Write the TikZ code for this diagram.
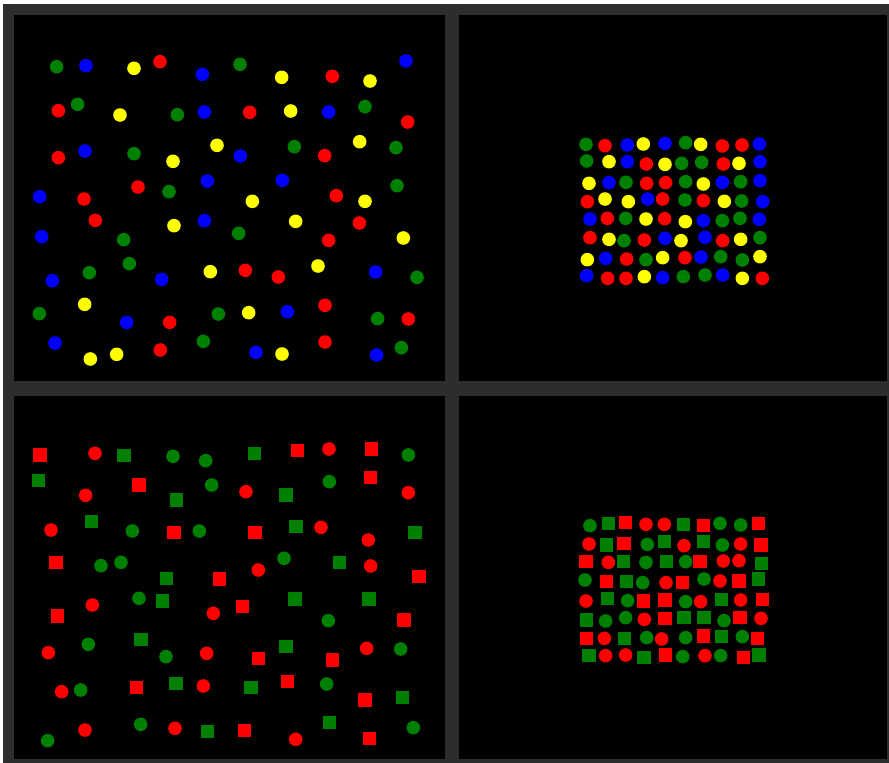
\documentclass[tikz,border=0pt]{standalone}
\definecolor{framegray}{RGB}{45,45,45}
\definecolor{dg}{RGB}{0,128,0}
\definecolor{dr}{RGB}{255,0,0}
\definecolor{db}{RGB}{0,0,255}
\definecolor{dy}{RGB}{255,255,0}
\newcommand\dotset[2]{\foreach \px/\py in {#2} \fill[#1] (\px,\py) circle[radius=6.8pt];}
\newcommand\sqset[2]{\foreach \px/\py in {#2} \fill[#1] (\px,\py) ++(-6.8pt,-6.8pt) rectangle ++(13.6pt,13.6pt);}
\tikzset{zoomframe/.style={x=0.33333pt,y=-0.33333pt}}
\begin{document}
\begin{tikzpicture}[x=1pt,y=-1pt]
\fill[white] (0,0) rectangle (889,763);
\useasboundingbox (0,0) rectangle (889,763);
\fill[framegray] (3,4) rectangle (889,763);
\fill[black] (14,15) rectangle (445,381);
\fill[black] (459,15) rectangle (887,381);
\fill[black] (14,396) rectangle (445,759);
\fill[black] (459,396) rectangle (887,759);
% top-left
\begin{scope}[shift={(15,40)},zoomframe]
\dotset{dg}{125/80,188/193,487/224,357/341,462/455}
\dotset{db}{213/77,562/103,568/216,210/333,577/423,74/470}
\dotset{dy}{357/85,315/225,606/316,474/364}
\dotset{dr}{435/65,130/212,130/353,369/441,207/477}
\end{scope}
\begin{scope}[shift={(225,40)},zoomframe]
\dotset{dg}{45/73,420/200,208/320,513/323,516/437}
\dotset{db}{543/63,311/216,46/348,172/421}
\dotset{dy}{170/112,435/123,197/213,404/305,82/484,420/484}
\dotset{dr}{322/109,74/217,548/246,299/347,334/467}
\end{scope}
\begin{scope}[shift={(15,205)},zoomframe]
\dotset{dr}{241/46,464/352,436/435}
\dotset{dy}{477/62,586/200,209/298,226/462,305/448}
\dotset{db}{568/47,80/95,112/227,440/223,335/352,120/414}
\dotset{dg}{326/104,343/176,223/203,73/326,610/327,565/409}
\end{scope}
\begin{scope}[shift={(225,205)},zoomframe]
\dotset{dy}{212/49,535/99,279/183,71/323,171/447}
\dotset{dr}{403/54,311/106,61/196,160/216,300/301,550/342,300/411}
\dotset{dg}{41/85,576/217,458/341,529/428}
\dotset{db}{452/201,187/320,93/442,455/450}
\end{scope}
% top-right
\begin{scope}[shift={(570,125)},zoomframe]
\dotset{dg}{48/58,347/53,50/108,335/115,395/112,168/172,347/170,512/170,345/225,515/228,167/280,457/287,510/280,162/347,570/338,228/404,452/395,517/405,340/455,405/450}
\dotset{dr}{105/62,457/63,516/60,229/117,460/117,230/175,287/173,52/230,278/222,400/227,112/280,284/281,60/338,223/345,458/347,170/402,345/398,113/460,168/460,577/460}
\dotset{db}{172/60,285/55,568/57,172/110,570/110,117/173,457/172,570/167,233/222,578/230,60/282,400/287,568/283,285/340,405/337,107/400,393/396,50/452,278/458,458/450}
\dotset{dy}{220/57,392/58,117/110,285/118,507/115,57/175,400/177,105/222,175/230,463/229,228/282,346/290,117/343,333/347,512/343,52/404,278/398,570/395,223/455,517/460}
\end{scope}
% bottom-right
\begin{scope}[shift={(570,505)},zoomframe]
\dotset{dg}{60/62,450/55,512/60,232/118,457/120,228/172,347/170,45/225,218/233,402/222,173/287,347/290,107/348,167/338,462/347,230/398,347/398,517/395,338/455,452/452}
\sqset{dg}{115/55,340/58,110/120,283/110,400/110,160/170,290/170,575/175,170/230,565/222,113/280,455/283,50/345,342/337,402/337,163/400,455/395,57/452,222/457,567/450}
\dotset{dr}{228/58,283/58,57/117,342/122,512/117,115/172,460/168,507/167,288/233,450/228,48/288,392/290,512/285,223/343,573/340,103/400,275/402,107/452,167/450,405/452}
\sqset{dr}{167/52,400/62,565/55,162/115,573/120,48/170,390/170,110/230,338/233,507/228,220/288,285/285,577/283,285/340,510/338,50/400,400/393,562/400,287/450,520/457}
\end{scope}
% bottom-left
\begin{scope}[shift={(15,430)},zoomframe]
\sqset{dr}{75/75,372/165,477/308,123/398,613/447}
\dotset{dr}{240/70,212/196,108/300}
\sqset{dg}{327/77,70/151,485/210,230/275,455/445}
\dotset{dg}{474/79,572/92,590/165,352/303,553/303,258/407,318/397}
\end{scope}
\begin{scope}[shift={(225,430)},zoomframe]
\sqset{dg}{88/70,183/195,213/290,570/307,343/397}
\sqset{dr}{218/62,440/57,437/143,90/307,582/440}
\dotset{dr}{312/57,63/185,550/188,288/292,430/330,100/420,437/408}
\dotset{dg}{550/75,313/155,177/385}
\end{scope}
\begin{scope}[shift={(15,590)},zoomframe]
\dotset{dg}{372/25,220/163,453/200,197/300,377/403,98/452}
\sqset{dg}{443/33,378/148,483/280,578/425}
\dotset{dr}{232/45,595/70,100/188,575/190,140/305,565/288,210/420,480/415}
\sqset{dr}{128/78,365/292}
\end{scope}
\begin{scope}[shift={(225,590)},zoomframe]
\sqset{dr}{52/50,537/90,100/205,323/210,188/275,420/330,58/422,433/445}
\sqset{dg}{210/27,432/27,183/170,78/292,532/322,313/397}
\dotset{dg}{310/92,527/177,305/282,565/413}
\dotset{dr}{425/175,212/448}
\end{scope}
\end{tikzpicture}
\end{document}
